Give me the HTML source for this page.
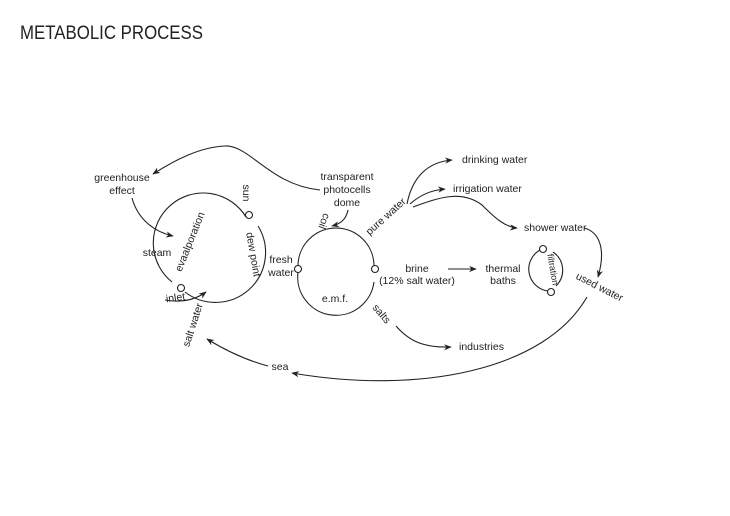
<!DOCTYPE html>
<html><head><meta charset="utf-8"><style>
html,body{margin:0;padding:0;background:#fff}
svg{display:block}
text{font-family:"Liberation Sans",sans-serif;fill:#222}
</style></head><body>
<svg width="730" height="516" viewBox="0 0 730 516" xmlns="http://www.w3.org/2000/svg">
<defs><marker id="a" viewBox="0 0 10 10" refX="9" refY="5" markerWidth="7" markerHeight="7" orient="auto"><path d="M0,1 L10,5 L0,9 L3,5 z" fill="#222"/></marker></defs>
<text x="20" y="39" font-size="19" textLength="183" lengthAdjust="spacingAndGlyphs">METABOLIC PROCESS</text>
<g fill="none" stroke="#222" stroke-width="1.1">
<path d="M246,217 A50,50 0 1 0 172,282"/>
<path d="M185,292 A50,50 0 0 0 258,226"/>
<circle cx="249" cy="215" r="3.5" fill="#fff"/>
<circle cx="181" cy="288" r="3.5" fill="#fff"/>
<path d="M298,266 A38,38 0 0 1 374,266"/>
<path d="M298,272 A38,38 0 0 0 374,282"/>
<circle cx="298" cy="269" r="3.5" fill="#fff"/>
<circle cx="375" cy="269" r="3.5" fill="#fff"/>
<path d="M540,250 A22,22 0 0 0 548,291"/>
<path d="M553,252 A22,22 0 0 1 556,286"/>
<circle cx="543" cy="249" r="3.5" fill="#fff"/>
<circle cx="551" cy="292" r="3.5" fill="#fff"/>
<path d="M320,190 C270,185 250,145 225,146 C200,147 175,160 153,174" marker-end="url(#a)"/>
<path d="M132,198 C138,220 155,232 173,236" marker-end="url(#a)"/>
<path d="M348,210 C346,220 340,224 332,226" marker-end="url(#a)"/>
<path d="M165,300 C182,303 195,300 206,292" marker-end="url(#a)"/>
<path d="M268,366 C245,360 225,350 207,339" marker-end="url(#a)"/>
<path d="M587,297 C545,370 420,395 292,373" marker-end="url(#a)"/>
<path d="M407,204 C412,178 427,162 452,160" marker-end="url(#a)"/>
<path d="M410,204 C420,195 432,190 445,189" marker-end="url(#a)"/>
<path d="M413,207 C440,197 462,190 482,205 C495,218 505,227 517,228" marker-end="url(#a)"/>
<path d="M584,228 C600,232 606,250 598,277" marker-end="url(#a)"/>
<path d="M448,269 L476,269" marker-end="url(#a)"/>
<path d="M396,326 C410,342 425,348 451,347" marker-end="url(#a)"/>
</g>
<g font-size="10.5" text-anchor="middle">
<text x="122" y="181">greenhouse</text><text x="122" y="194">effect</text>
<text x="347" y="180">transparent</text><text x="347" y="193">photocells</text><text x="347" y="206">dome</text>
<text x="157" y="256">steam</text>
<text x="281" y="263">fresh</text><text x="281" y="276">water</text>
<text x="335" y="302">e.m.f.</text>
<text x="417" y="272">brine</text><text x="417" y="284">(12% salt water)</text>
<text x="503" y="272">thermal</text><text x="503" y="284">baths</text>
<text x="280" y="370">sea</text>
<text x="462" y="163" text-anchor="start">drinking water</text>
<text x="453" y="192" text-anchor="start">irrigation water</text>
<text x="524" y="231" text-anchor="start">shower water</text>
<text x="459" y="350" text-anchor="start">industries</text>
<text transform="translate(243,193) rotate(90)">sun</text>
<text transform="translate(176,301) rotate(-8)">inlet</text>
<text transform="translate(196,326) rotate(-72)">salt water</text>
<text transform="translate(321,220) rotate(110)">coil</text>
<text transform="translate(388,219) rotate(-42)">pure water</text>
<text transform="translate(379,316) rotate(50)">salts</text>
<text transform="translate(598,290) rotate(27)">used water</text>
<text transform="translate(193,243) rotate(-68)">evaalporation</text>
<text transform="translate(250,255) rotate(80)">dew point</text>
<text transform="translate(550,270) rotate(80)" font-size="9">filtration</text>
</g>
</svg>
</body></html>
